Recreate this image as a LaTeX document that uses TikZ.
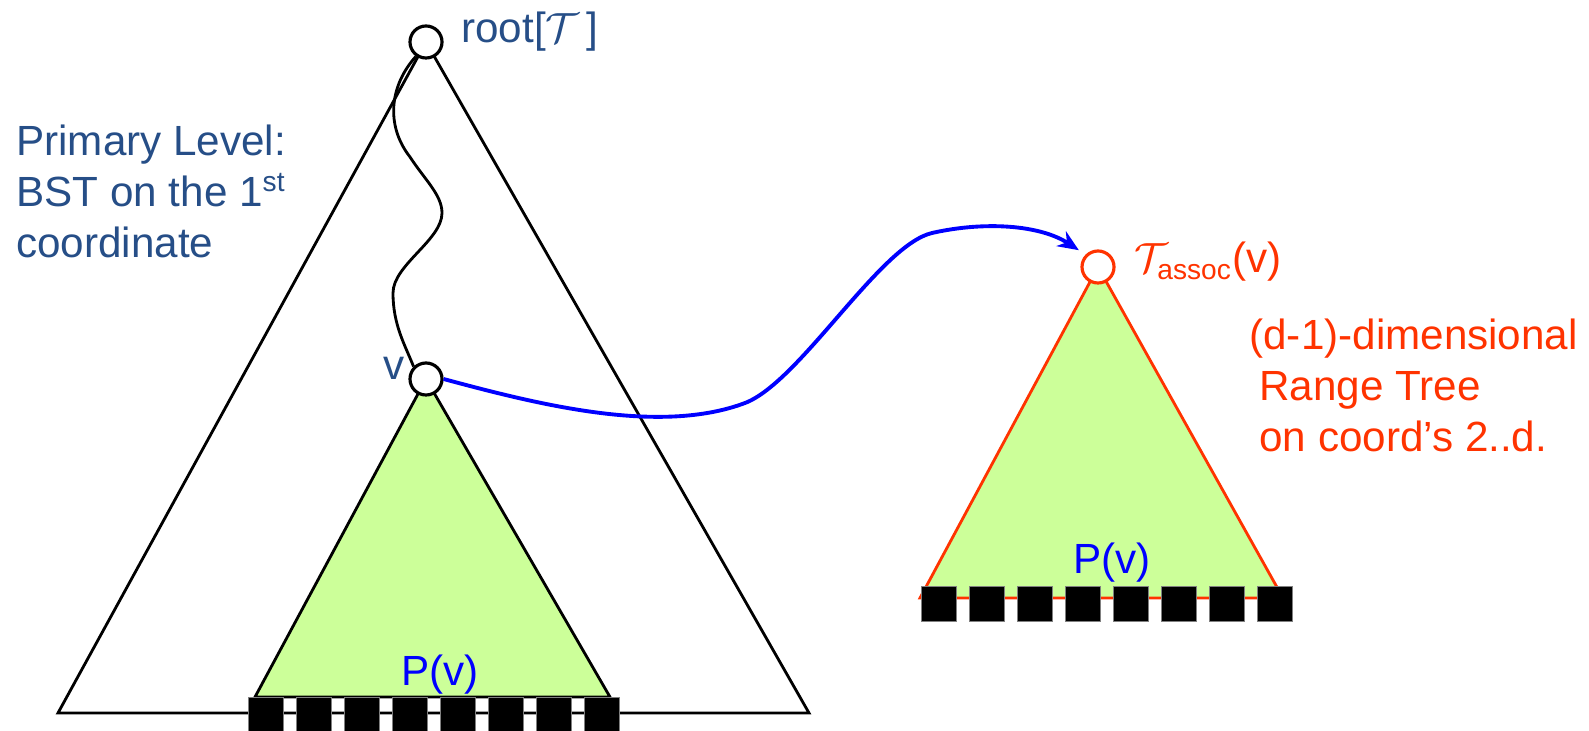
\documentclass[tikz,border=0pt]{standalone}
\usepackage{amsmath}
\usepackage{fontspec}
\setmainfont{Liberation Sans}
\usepackage{xcolor}
\usepackage{tikz}
\usetikzlibrary{arrows.meta}

\definecolor{lvlblue}{RGB}{38,78,135}
\definecolor{assocred}{RGB}{255,51,0}
\definecolor{subgreen}{RGB}{204,255,153}

\begin{document}
\begin{tikzpicture}[x=0.01cm,y=-0.01cm,>={Stealth[length=6pt,width=5pt]},line width=0.8pt,
  tnode/.style={draw,circle,fill=white,inner sep=0pt,minimum size=0.32cm,line width=0.9pt},
  leaf/.style={draw=gray,fill=black,inner sep=0pt,minimum size=0.35cm,line width=0.3pt,anchor=north west},
  lbl/.style={font=\fontsize{12}{14.6}\selectfont,inner sep=0pt,anchor=base west}]
  \useasboundingbox (0,0) rectangle (1589,731);
  % primary tree and the subtree of v
  \draw (426,42) -- (58,713) -- (809,713) -- cycle;
  \filldraw[fill=subgreen] (426,379) -- (255,697) -- (610,697) -- cycle;
  \foreach \i in {0,...,7}
    \node[leaf] (pl\i) at ({248+48*\i},697) {};
  \node[tnode] (root) at (426,42) {};
  \node[tnode] (v) at (426,379) {};
  \draw (root.235) .. controls (390,85) and (385,125) .. (410,157)
        .. controls (425,180) and (442,195) .. (442,213)
        .. controls (442,240) and (393,265) .. (393,293)
        .. controls (393,325) and (405,345) .. (v.north west);
  % associated structure
  \filldraw[draw=assocred,fill=subgreen] (1098,267) -- (920,598) -- (1283,598) -- cycle;
  \foreach \i in {0,...,7}
    \node[leaf] (ar\i) at ({921+48*\i},586) {};
  \node[tnode,draw=assocred] (assoc) at (1098,267) {};
  \draw[->,blue,line width=1.1pt,shorten >=0.08cm] (v.east)
        .. controls (540,405) and (660,435) .. (745,403)
        .. controls (800,382) and (880,245) .. (932,233)
        .. controls (985,221) and (1040,225) .. (assoc.north west);
  % labels
  \node[lbl,text=lvlblue] (rootlbl) at (460,43) {root[$\mathcal{T}$\,]};
  \node[lbl,text=lvlblue] (vlbl) at (382,380) {v};
  \node[lbl,text=lvlblue,align=left] (primary) at (15,258) {Primary Level:\\BST on the 1\textsuperscript{st}\\coordinate};
  \node[lbl,text=blue] (pvl) at (400,685) {P(v)};
  \node[lbl,text=blue] (pva) at (1072,573) {P(v)};
  \node[lbl,text=assocred] (assoclbl) at (1133,273) {$\mathcal{T}_{\text{assoc}}$(v)};
  \node[lbl,text=assocred,align=left] (dimlbl) at (1248,452) {(d-1)-dimensional\\\hspace*{0.1cm}Range Tree\\\hspace*{0.1cm}on coord's 2..d.};
\end{tikzpicture}
\end{document}
